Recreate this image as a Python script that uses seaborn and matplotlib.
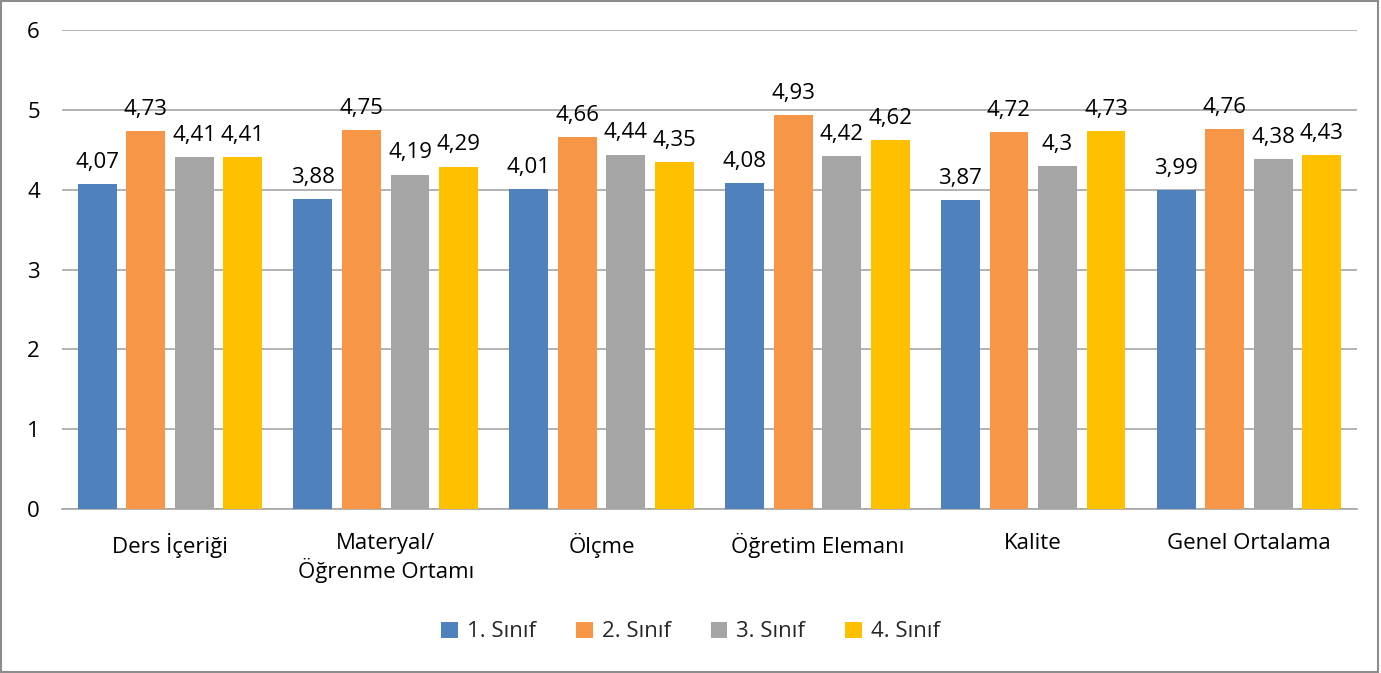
import matplotlib
matplotlib.use("Agg")
import matplotlib.pyplot as plt
import seaborn as sns
import pandas as pd
from matplotlib.patches import Rectangle

categories = ["Ders İçeriği", "Materyal/\nÖğrenme Ortamı", "Ölçme", "Öğretim Elemanı", "Kalite", "Genel Ortalama"]
series_names = ["1. Sınıf", "2. Sınıf", "3. Sınıf", "4. Sınıf"]
sinif1 = [4.07, 3.88, 4.01, 4.08, 3.87, 3.99]
sinif2 = [4.73, 4.75, 4.66, 4.93, 4.72, 4.76]
sinif3 = [4.41, 4.19, 4.44, 4.42, 4.30, 4.38]
sinif4 = [4.41, 4.29, 4.35, 4.62, 4.73, 4.43]
colors = ["#4F81BD", "#F79646", "#A5A5A5", "#FFC000"]

rows = []
for name, vals in zip(series_names, [sinif1, sinif2, sinif3, sinif4]):
    for c, v in zip(categories, vals):
        rows.append({"Kategori": c, "Sınıf": name, "Değer": v})
df = pd.DataFrame(rows)

sns.set_theme(style="white")
plt.rcParams["font.family"] = ["Open Sans", "DejaVu Sans"]

fig = plt.figure(figsize=(13.81, 6.73), dpi=100)
ax = fig.add_axes([0.0449, 0.2437, 0.9377, 0.7117])

sns.barplot(data=df, x="Kategori", y="Değer", hue="Sınıf", order=categories,
            hue_order=series_names, palette=colors, width=0.9, gap=0.2,
            saturation=1, errorbar=None, ax=ax, zorder=3, edgecolor="none")

def fmt(v):
    s = f"{v:.2f}".rstrip("0").rstrip(".")
    return s.replace(".", ",")

for cont in ax.containers:
    ax.bar_label(cont, labels=[fmt(b.get_height()) for b in cont], padding=8, fontsize=16, color="#000000")

ax.set_ylim(0, 6)
ax.set_xlim(-0.5, 5.5)
ax.set_yticks(range(0, 7))
ax.yaxis.grid(True, color="#A6A6A6", linewidth=1.2, zorder=0)
ax.set_axisbelow(True)
for s in ["left", "right", "top"]:
    ax.spines[s].set_visible(False)
ax.spines["bottom"].set_color("#A6A6A6")
ax.spines["bottom"].set_linewidth(1.2)
ax.set_xlabel("")
ax.set_ylabel("")
ax.tick_params(axis="both", labelsize=16, colors="#000000", length=0)
ax.tick_params(axis="y", pad=16)
ax.tick_params(axis="x", pad=17)

ax.legend(loc="center", bbox_to_anchor=(0.5, 0.061), bbox_transform=fig.transFigure,
          ncol=4, frameon=False, fontsize=16, handlelength=0.75, handleheight=0.75,
          columnspacing=1.8, handletextpad=0.4)

fig.patches.append(Rectangle((0.001, 0.001), 0.997, 0.997, transform=fig.transFigure,
                             fill=False, edgecolor="#8C8C8C", linewidth=1.5))

fig.savefig("out.png", dpi=100, facecolor="white")
